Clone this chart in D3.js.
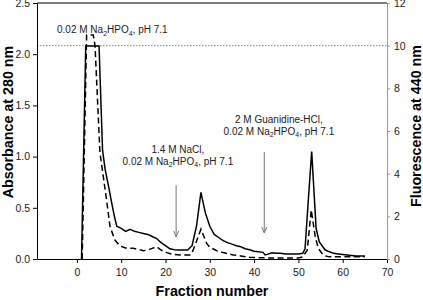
<!DOCTYPE html>
<html>
<head>
<meta charset="utf-8">
<script src="https://cdn.jsdelivr.net/npm/d3@7"></script>
<style>
  html, body { margin: 0; padding: 0; background: #fff; }
  svg { display: block; font-family: Arial, "Liberation Sans", sans-serif; }
</style>
</head>
<body>
<svg id="chart" width="423" height="300"></svg>
<script>
// ---- data ----
const xTicks = [0, 10, 20, 30, 40, 50, 60, 70];
const absTicks = [0, 0.5, 1.0, 1.5, 2.0, 2.5];
const fluTicks = [0, 2, 4, 6, 8, 10, 12];

// Absorbance at 280 nm (solid)
const absFraction = [1.05, 2, 5, 5.8, 6.4, 7.2, 7.8, 8.5, 9, 10, 11, 12, 13, 14, 15, 16, 17, 18, 19, 20, 21, 22, 23, 24, 25, 26, 27, 28, 29, 30, 31, 32, 33, 34, 35, 36, 37, 38, 39, 40, 41, 42, 42.5, 43, 44, 45, 46, 47, 48, 49, 50, 51, 51.5, 52.2, 53, 54, 54.7, 56, 57, 58, 59, 60, 61, 62, 63, 64, 65];
const absValues   = [0, 2.08, 2.08, 1.06, 0.87, 0.7, 0.56, 0.41, 0.32, 0.3, 0.27, 0.29, 0.27, 0.26, 0.25, 0.24, 0.22, 0.2, 0.16, 0.13, 0.1, 0.09, 0.088, 0.088, 0.088, 0.13, 0.32, 0.65, 0.45, 0.32, 0.24, 0.21, 0.18, 0.16, 0.145, 0.13, 0.12, 0.1, 0.09, 0.075, 0.07, 0.065, 0.04, 0.045, 0.06, 0.055, 0.055, 0.05, 0.05, 0.05, 0.05, 0.055, 0.1, 0.55, 1.05, 0.3, 0.17, 0.09, 0.07, 0.055, 0.05, 0.045, 0.04, 0.035, 0.03, 0.03, 0.03];

// Fluorescence at 440 nm (dashed)
const fluFraction = [1.2, 2.2, 3.7, 4.1, 5.2, 6.7, 7.5, 8.6, 9.7, 11, 12.7, 14, 15, 16, 17, 18, 19, 20.3, 21.5, 23.3, 25.5, 26, 26.7, 28, 29.3, 30, 31.6, 33, 35.3, 37, 39, 41, 43, 45, 48, 50, 51, 52, 52.9, 53.8, 54.5, 55.3, 56, 57, 60, 65];
const fluValues   = [0, 10.5, 10.5, 10.0, 5.0, 2.77, 1.5, 0.89, 0.61, 0.52, 0.5, 0.45, 0.39, 0.42, 0.5, 0.58, 0.42, 0.3, 0.22, 0.19, 0.19, 0.3, 0.66, 1.4, 0.73, 0.55, 0.39, 0.3, 0.19, 0.14, 0.08, 0.06, 0.05, 0.05, 0.05, 0.05, 0.1, 0.42, 2.3, 1.05, 0.5, 0.27, 0.15, 0.1, 0.1, 0.1];

const referenceFluorescence = 10;

// annotations: buffer labels (fraction / absorbance anchors)
const noteLine1 = ["", "1.4 M NaCl,", "2 M Guanidine-HCl,"];
const noteFraction = [8.0, 22.8, 45.6];
const noteAbs = [2.207, 0.92, 1.215];
const arrowFraction = [22.4, 42.3];
const arrowTopAbs = [0.72, 1.045];
const arrowBottomAbs = [0.215, 0.254];

// ---- layout ----
const svg = d3.select("#chart");
const x = d3.scaleLinear().domain([-9, 70]).range([37, 387]);
const yL = d3.scaleLinear().domain([0, 2.5]).range([259, 3]);
const yR = d3.scaleLinear().domain([0, 12]).range([259, 3]);

// top border
svg.append("line").attr("x1", x(-9)).attr("x2", x(70)).attr("y1", yL(2.5)).attr("y2", yL(2.5))
  .attr("stroke", "#000").attr("stroke-width", 1);

// dotted reference line
svg.append("line").attr("x1", x(-9)).attr("x2", x(70))
  .attr("y1", yR(referenceFluorescence)).attr("y2", yR(referenceFluorescence))
  .attr("stroke", "#888").attr("stroke-width", 1).attr("stroke-dasharray", "1.5,1.5");

// axes
const fmt1 = d3.format(".1f");
const gx = svg.append("g").attr("transform", `translate(0,${yL(0)})`)
  .call(d3.axisBottom(x).tickValues(xTicks).tickSize(4).tickSizeOuter(0).tickPadding(6));
const gl = svg.append("g").attr("transform", `translate(${x(-9)},0)`)
  .call(d3.axisLeft(yL).tickValues(absTicks).tickFormat(fmt1).tickSize(4).tickSizeOuter(0).tickPadding(3));
const gr = svg.append("g").attr("transform", `translate(${x(70)},0)`)
  .call(d3.axisRight(yR).tickValues(fluTicks).tickSize(3).tickSizeOuter(0).tickPadding(4));

[gx, gl].forEach(g => {
  g.selectAll("path.domain").attr("stroke", "#000");
  g.selectAll(".tick line").attr("stroke", "#000");
});
gr.selectAll("path.domain").attr("stroke", "#999");
gr.selectAll(".tick line").attr("stroke", "#999");
[gx, gl, gr].forEach(g => {
  g.selectAll(".tick text").attr("font-size", 10.5).attr("fill", "#222")
    .attr("font-family", "Arial, 'Liberation Sans', sans-serif");
});

// lines
const absData = absFraction.map((f, i) => [f, absValues[i]]);
const fluData = fluFraction.map((f, i) => [f, fluValues[i]]);

svg.append("path").datum(fluData)
  .attr("fill", "none").attr("stroke", "#000").attr("stroke-width", 1.5)
  .attr("stroke-dasharray", "6,3.5")
  .attr("d", d3.line().x(d => x(d[0])).y(d => yR(d[1])));

svg.append("path").datum(absData)
  .attr("fill", "none").attr("stroke", "#000").attr("stroke-width", 1.5)
  .attr("d", d3.line().x(d => x(d[0])).y(d => yL(d[1])));

// arrows
arrowFraction.forEach((f, i) => {
  const ax = x(f), y1 = yL(arrowTopAbs[i]), y2 = yL(arrowBottomAbs[i]);
  svg.append("line").attr("x1", ax).attr("x2", ax).attr("y1", y1).attr("y2", y2)
    .attr("stroke", "#777").attr("stroke-width", 1);
  svg.append("path").attr("d", `M${ax - 2.5},${y2 - 6}L${ax},${y2}L${ax + 2.5},${y2 - 6}`)
    .attr("fill", "none").attr("stroke", "#777").attr("stroke-width", 1);
});

// buffer annotations
function buffer(sel) {
  sel.append("tspan").text("0.02 M Na");
  sel.append("tspan").attr("font-size", 7).attr("dy", 2.5).text("2");
  sel.append("tspan").attr("dy", -2.5).text("HPO");
  sel.append("tspan").attr("font-size", 7).attr("dy", 2.5).text("4");
  sel.append("tspan").attr("dy", -2.5).text(", pH 7.1");
}
noteFraction.forEach((f, i) => {
  const cx = x(f), by = yL(noteAbs[i]);
  if (noteLine1[i]) {
    svg.append("text").attr("x", cx).attr("y", by - 12).attr("text-anchor", "middle")
      .attr("font-size", 10).attr("fill", "#222").text(noteLine1[i]);
  }
  const t = svg.append("text").attr("x", cx).attr("y", by).attr("text-anchor", "middle")
    .attr("font-size", 10).attr("fill", "#222");
  buffer(t);
});

// axis titles
svg.append("text").attr("x", 212).attr("y", 296).attr("text-anchor", "middle")
  .attr("font-size", 14.3).attr("font-weight", "bold").text("Fraction number");
svg.append("text").attr("transform", "translate(13,122) rotate(-90)").attr("text-anchor", "middle")
  .attr("font-size", 14.3).attr("font-weight", "bold").text("Absorbance at 280 nm");
svg.append("text").attr("transform", "translate(421,126) rotate(-90)").attr("text-anchor", "middle")
  .attr("font-size", 14.3).attr("font-weight", "bold").text("Fluorescence at 440 nm");
</script>
</body>
</html>
